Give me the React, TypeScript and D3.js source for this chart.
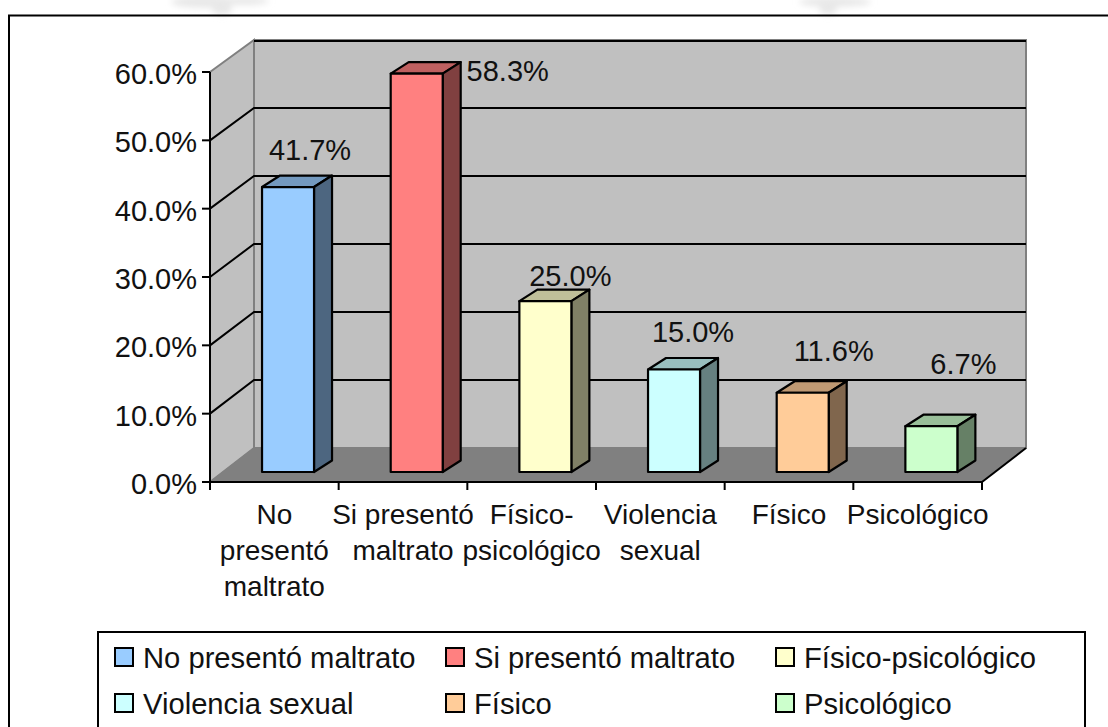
import React from "react";
import * as d3 from "d3";

const categories = ["No presentó maltrato", "Si presentó maltrato", "Físico-psicológico", "Violencia sexual", "Físico", "Psicológico"];
const values = [41.7, 58.3, 25.0, 15.0, 11.6, 6.7];
const colors = ["#99CCFF", "#FF8080", "#FFFFCC", "#CCFFFF", "#FFCC99", "#CCFFCC"];
const axisLines = [["No", "presentó", "maltrato"], ["Si presentó", "maltrato"], ["Físico-", "psicológico"], ["Violencia", "sexual"], ["Físico"], ["Psicológico"]];
const yTicks = [0, 10, 20, 30, 40, 50, 60];
const labelDx = [22, 91, 25, 19, 31, 32];
const labelDy = [-27, 7.4, -15, -27.5, -32, -52];
const legendCols = [115, 446, 776];
const legendRows = [648, 694];

const FONT = "'Liberation Sans', Arial, sans-serif";
const x0 = 210, x1 = 982, yBase = 482, yTop = 72;
const depthX = 44, backBase = 448, backTop = 40;
const barW = 52, barDX = 18, barDY = -11.5, barLift = 10;

export default function App() {
  const x = d3.scaleBand<string>().domain(categories).range([x0, x1]);
  const y = d3.scaleLinear().domain([0, 60]).range([yBase, yTop]);
  const yBack = d3.scaleLinear().domain([0, 60]).range([backBase, backTop]);
  const line = d3.line<[number, number]>();
  const poly = (p: [number, number][]) => line(p) + "Z";
  const shade = (c: string, k: number) => {
    const r = d3.rgb(c);
    return d3.rgb(r.r * k, r.g * k, r.b * k).formatHex();
  };
  const fs = 29;
  const xl = x0 + depthX, xr = x1 + depthX;
  return (
    <svg width={1108} height={727} style={{ position: "absolute", left: 0, top: 0, background: "#fff" }} fontFamily={FONT}>
      <defs>
        <filter id="wm" x="-30%" y="-100%" width="160%" height="300%">
          <feGaussianBlur stdDeviation="3" />
        </filter>
      </defs>
      <g fill="#e8e8e8" filter="url(#wm)">
        <ellipse cx={205} cy={2} rx={34} ry={6} />
        <ellipse cx={222} cy={10} rx={10} ry={5} />
        <ellipse cx={245} cy={1} rx={24} ry={4} />
        <ellipse cx={835} cy={2} rx={36} ry={5} />
        <ellipse cx={828} cy={10} rx={9} ry={5} />
      </g>
      <path d="M9,727V15.5H1108" fill="none" stroke="#000" strokeWidth={2} />
      {/* walls */}
      <path d={poly([[x0, yTop], [xl, backTop], [xl, backBase], [x0, yBase]])} fill="#C0C0C0" stroke="#808080" strokeWidth={2} />
      <path d={poly([[xl, backTop], [xr, backTop], [xr, backBase], [xl, backBase]])} fill="#C0C0C0" stroke="#808080" strokeWidth={2} />
      <path d={poly([[x0, yBase], [xl, backBase], [xr, backBase], [x1, yBase]])} fill="#808080" stroke="#808080" strokeWidth={1} />
      {/* gridlines */}
      {yTicks.slice(1).map((t) => (
        <path
          key={t}
          d={t === 60
            ? line([[xl, yBack(t) + 1], [xr, yBack(t) + 1]])!
            : line([[x0, y(t)], [xl, yBack(t)], [xr, yBack(t)]])!}
          fill="none" stroke="#000" strokeWidth={2}
        />
      ))}
      {/* axes */}
      <path d={`M${x0},${yTop}V${yBase}H${x1}`} fill="none" stroke="#000" strokeWidth={2} />
      <path d={`M${x1},${yBase}L${xr},${backBase}`} fill="none" stroke="#000" strokeWidth={2} />
      {yTicks.map((t) => (
        <g key={t}>
          <line x1={x0 - 8} x2={x0} y1={y(t)} y2={y(t)} stroke="#000" strokeWidth={2} />
          <text x={197} y={y(t) + 12} textAnchor="end" fontSize={fs} fill="#111">{t.toFixed(1)}%</text>
        </g>
      ))}
      {d3.range(7).map((i) => {
        const px = x0 + i * x.bandwidth();
        return <line key={i} x1={px} x2={px} y1={yBase} y2={yBase + 8} stroke="#000" strokeWidth={2} />;
      })}
      {/* bars */}
      {categories.map((c, i) => {
        const bl = x(c)! + x.bandwidth() / 2 + 13.7 - barW / 2;
        const br = bl + barW;
        const b = yBase - barLift;
        const t = y(values[i]) - barLift;
        return (
          <g key={c} stroke="#000" strokeWidth={2.2} strokeLinejoin="round">
            <path d={poly([[bl, t], [bl + barDX, t + barDY], [br + barDX, t + barDY], [br, t]])} fill={shade(colors[i], 0.75)} />
            <path d={poly([[br, t], [br + barDX, t + barDY], [br + barDX, b + barDY], [br, b]])} fill={shade(colors[i], 0.5)} />
            <rect x={bl} y={t} width={barW} height={b - t} fill={colors[i]} />
          </g>
        );
      })}
      {/* data labels */}
      {categories.map((c, i) => (
        <text key={c} x={x(c)! + x.bandwidth() / 2 + 13.7 + labelDx[i]} y={y(values[i]) - barLift + labelDy[i]} textAnchor="middle" fontSize={fs} fill="#111">
          {values[i].toFixed(1)}%
        </text>
      ))}
      {/* category labels */}
      {categories.map((c, i) => (
        <text key={c} textAnchor="middle" fontSize={28} fill="#111">
          {axisLines[i].map((l, j) => (
            <tspan key={j} x={x(c)! + x.bandwidth() / 2} y={524 + j * 36}>{l}</tspan>
          ))}
        </text>
      ))}
      {/* legend */}
      <path d="M98,727V632H1085V727" fill="none" stroke="#000" strokeWidth={2} />
      {categories.map((c, i) => {
        const cx = legendCols[i % 3];
        const cy = legendRows[Math.floor(i / 3)];
        return (
          <g key={c}>
            <rect x={cx} y={cy} width={18} height={18} fill={colors[i]} stroke="#000" strokeWidth={2} />
            <text x={cx + 28} y={cy + 19.5} fontSize={29.2} fill="#111">{c}</text>
          </g>
        );
      })}
    </svg>
  );
}
